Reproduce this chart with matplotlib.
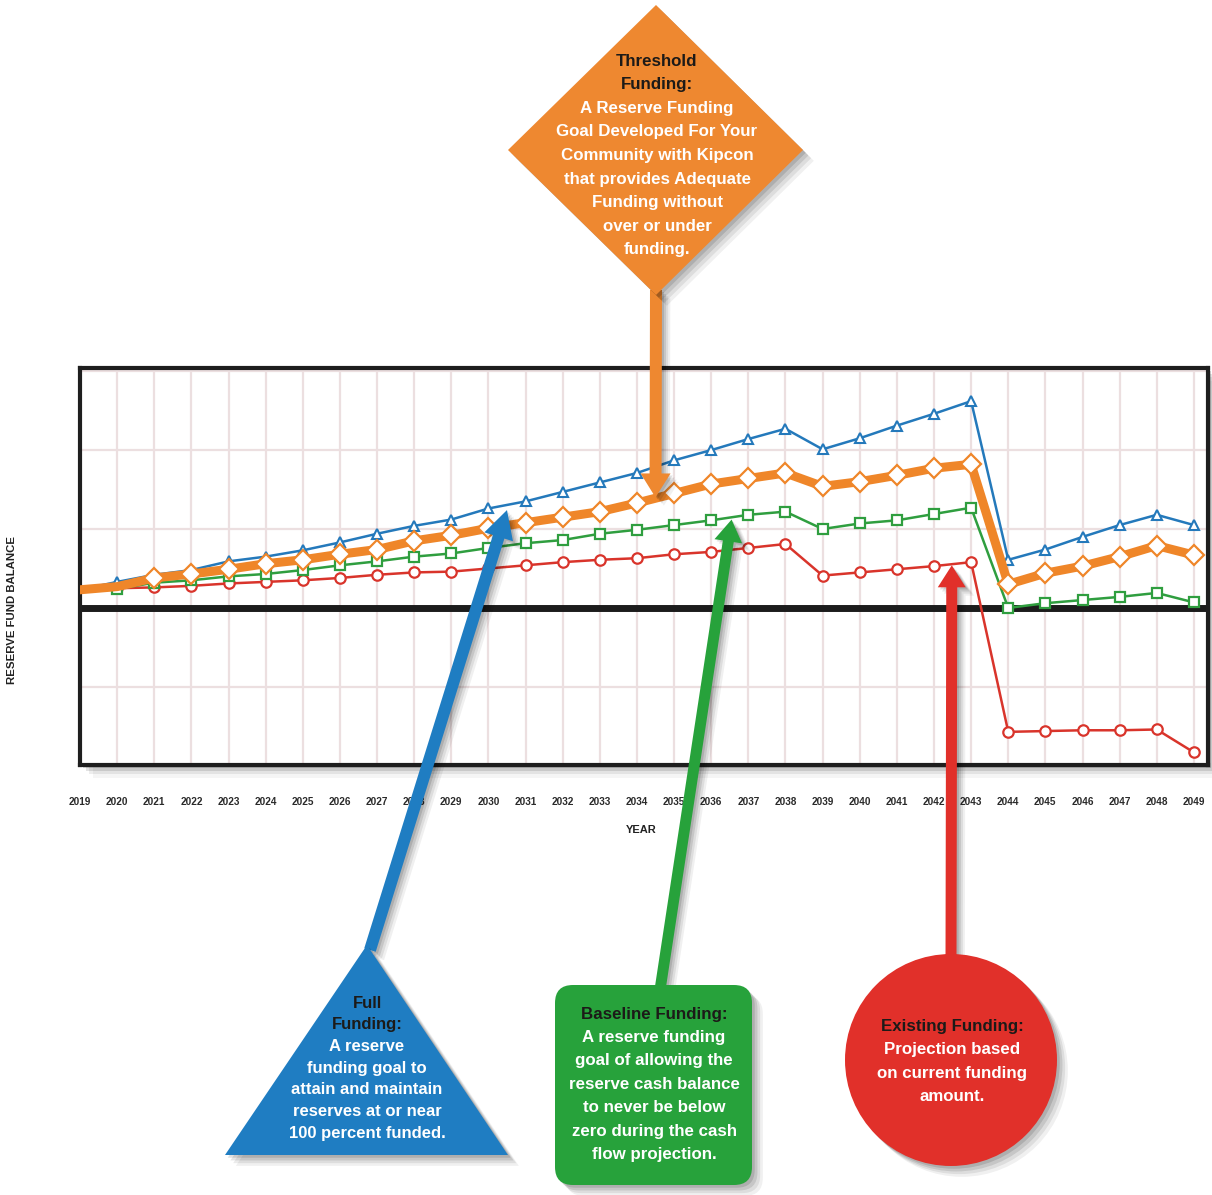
import matplotlib
matplotlib.use('Agg')
import matplotlib.pyplot as plt
import matplotlib.patheffects as pe
from matplotlib.patches import Polygon, Circle, FancyBboxPatch, Rectangle
import numpy as np

# ---------------- data ----------------
years = list(range(2019, 2050))
year_labels = [str(y) for y in years]
full_funding = [0.23, 0.33, 0.42, 0.48, 0.59, 0.65, 0.73, 0.83, 0.94, 1.04,
                1.12, 1.26, 1.35, 1.47, 1.59, 1.71, 1.87, 2.00, 2.14, 2.27,
                2.01, 2.15, 2.31, 2.46, 2.62, 0.61, 0.74, 0.90, 1.05, 1.18, 1.05]
threshold_funding = [0.23, 0.27, 0.38, 0.43, 0.49, 0.56, 0.61, 0.68, 0.74, 0.85,
                     0.92, 1.01, 1.08, 1.15, 1.22, 1.33, 1.45, 1.57, 1.64, 1.71,
                     1.54, 1.60, 1.68, 1.77, 1.82, 0.30, 0.44, 0.53, 0.65, 0.79, 0.67]
baseline_funding = [0.23, 0.24, 0.32, 0.35, 0.40, 0.43, 0.48, 0.54, 0.59, 0.65,
                    0.69, 0.76, 0.82, 0.86, 0.94, 0.99, 1.05, 1.11, 1.18, 1.22,
                    1.00, 1.07, 1.11, 1.19, 1.27, 0.00, 0.06, 0.10, 0.14, 0.19, 0.07]
existing_funding = [0.23, 0.25, 0.26, 0.28, 0.31, 0.33, 0.35, 0.38, 0.42, 0.45,
                    0.46, 0.50, 0.54, 0.58, 0.61, 0.63, 0.68, 0.71, 0.76, 0.81,
                    0.41, 0.45, 0.49, 0.53, 0.58, -1.57, -1.56, -1.55, -1.55, -1.54, -1.83]

threshold_title = ["Threshold", "Funding:"]
threshold_body = ["A Reserve Funding", "Goal Developed For Your", "Community with Kipcon",
                  "that provides Adequate", "Funding without", "over or under", "funding."]
full_title = ["Full", "Funding:"]
full_body = ["A reserve", "funding goal to", "attain and maintain",
             "reserves at or near", "100 percent funded."]
baseline_title = ["Baseline Funding:"]
baseline_body = ["A reserve funding", "goal of allowing the", "reserve cash balance",
                 "to never be below", "zero during the cash", "flow projection."]
existing_title = ["Existing Funding:"]
existing_body = ["Projection based", "on current funding", "amount."]

# ---------------- colours ----------------
C_BLUE = '#2479bb'
C_ORANGE = '#ef8629'
C_GREEN = '#2f9e3f'
C_RED = '#d9342b'
SH_BLUE = '#1f7dc2'
SH_ORANGE = '#ee8830'
SH_GREEN = '#27a23b'
SH_RED = '#e1302a'
DARK = '#1c1a18'
FONT = ['Liberation Sans', 'DejaVu Sans']
NARROW = ['Liberation Sans Narrow', 'Liberation Sans', 'DejaVu Sans']

W, H = 1212, 1195
fig = plt.figure(figsize=(W / 100, H / 100), dpi=100, facecolor='white')

bg = fig.add_axes([0, 0, 1, 1], zorder=0)
bg.set_xlim(0, W); bg.set_ylim(H, 0); bg.axis('off')

ax_l, ax_r, ax_t, ax_b = 80, 1208, 368, 765
ax = fig.add_axes([ax_l / W, 1 - ax_b / H, (ax_r - ax_l) / W, (ax_b - ax_t) / H], zorder=1)

fg = fig.add_axes([0, 0, 1, 1], zorder=2)
fg.set_xlim(0, W); fg.set_ylim(H, 0); fg.axis('off')

# chart drop shadow
for off, a in [(3, 0.16), (6, 0.11), (9, 0.07), (13, 0.04)]:
    bg.add_patch(Rectangle((ax_l + off, ax_t + off), ax_r - ax_l, ax_b - ax_t,
                           facecolor='k', edgecolor='none', alpha=a))

# ---------------- chart ----------------
ax.set_facecolor('white')
ax.set_xlim(2019, 2049.38)
ax.set_ylim(-1.99, 3.04)
ax.set_xticks(years)
ax.set_xticklabels(year_labels, fontsize=7.2, fontweight='bold', family=NARROW, color='#2a2a2a')
ax.set_yticks([-1, 0, 1, 2, 3])
ax.set_yticklabels([])
ax.tick_params(length=0, pad=23)
ax.grid(True, color='#ecdfe0', lw=1.6, zorder=0)
ax.set_axisbelow(True)
for s in ax.spines.values():
    s.set_linewidth(3)
    s.set_color('#1e1e1e')
ax.axhline(0, color='#1c1c1c', lw=5, zorder=2)

ax.plot(years, existing_funding, color=C_RED, lw=1.8, marker='o', ms=7.5, mfc='white',
        mec=C_RED, mew=1.6, markevery=slice(1, None), zorder=3)
ax.plot(years, baseline_funding, color=C_GREEN, lw=1.8, marker='s', ms=7, mfc='white',
        mec=C_GREEN, mew=1.6, markevery=slice(1, None), zorder=4)
ax.plot(years, full_funding, color=C_BLUE, lw=1.8, marker='^', ms=7.5, mfc='white',
        mec=C_BLUE, mew=1.5, markevery=slice(1, None), zorder=5)
ax.plot(years, threshold_funding, color=C_ORANGE, lw=6.5, marker='D', ms=10, mfc='white',
        mec=C_ORANGE, mew=1.6, markevery=slice(2, None), zorder=6)

fig.text(641 / W, 1 - 830 / H, 'YEAR', ha='center', va='center', fontsize=8,
         fontweight='bold', family=FONT, color='#222222')
fig.text(12 / W, 1 - 610 / H, 'RESERVE FUND BALANCE', ha='center', va='center', rotation=90,
         fontsize=8.2, fontweight='bold', family=FONT, color='#222222')


def to_px(x, y):
    dx, dy = ax.transData.transform((x, y))
    return dx, H - dy


def shadow_fx(scale=1.0):
    fx = []
    for off, a in [(1.5, 0.12), (3, 0.10), (4.5, 0.08), (6, 0.06)]:
        fx.append(pe.SimplePatchShadow(offset=(off * scale, -off * scale),
                                       shadow_rgbFace='k', alpha=a))
    fx.append(pe.Normal())
    return fx


def arrow(start, tip, color, sw=12, hw=30, hl=24):
    s = np.array(start, float); t = np.array(tip, float)
    d = t - s; d /= np.hypot(*d)
    n = np.array([-d[1], d[0]])
    neck = t - d * hl
    pts = [s + n * sw / 2, neck + n * sw / 2, neck + n * hw / 2, t,
           neck - n * hw / 2, neck - n * sw / 2, s - n * sw / 2]
    p = Polygon(pts, closed=True, facecolor=color, edgecolor='none', zorder=3)
    p.set_path_effects(shadow_fx())
    fg.add_patch(p)


def lines(x, y0, step, title, body, size):
    y = y0
    for t in title:
        fg.text(x, y, t, ha='center', va='center', fontsize=size, fontweight='bold',
                family=FONT, color=DARK, zorder=6)
        y += step
    for t in body:
        fg.text(x, y, t, ha='center', va='center', fontsize=size, fontweight='bold',
                family=FONT, color='white', zorder=6)
        y += step


# ---------------- callouts ----------------
# Threshold (orange diamond)
tip_o = to_px(2034.5, 1.40)
arrow((656, 290), tip_o, SH_ORANGE, sw=12, hw=30, hl=24)
dia = Polygon([(656, 5), (803, 150), (656, 295), (508, 150)], closed=True,
              facecolor=SH_ORANGE, edgecolor='none', zorder=4)
dia.set_path_effects(shadow_fx(1.3))
fg.add_patch(dia)
lines(657, 61, 23.6, threshold_title, threshold_body, 12.2)

# Full (blue triangle)
tip_b = to_px(2030.5, 1.24)
arrow((370, 950), tip_b, SH_BLUE, sw=12, hw=30, hl=28)
tri = Polygon([(367, 945), (508, 1155), (225, 1155)], closed=True,
              facecolor=SH_BLUE, edgecolor='none', zorder=4)
tri.set_path_effects(shadow_fx(1.3))
fg.add_patch(tri)
lines(367, 1003, 21.7, full_title, full_body, 12.0)

# Baseline (green rounded box)
tip_g = to_px(2036.55, 1.12)
arrow((660, 990), tip_g, SH_GREEN, sw=11, hw=28, hl=22)
box = FancyBboxPatch((555 + 18, 985 + 18), 197 - 36, 200 - 36,
                     boxstyle='round,pad=18', facecolor=SH_GREEN, edgecolor='none', zorder=4)
box.set_path_effects(shadow_fx(1.3))
fg.add_patch(box)
lines(654, 1014, 23.5, baseline_title, baseline_body, 12.2)

# Existing (red circle)
tip_r = to_px(2042.48, 0.54)
arrow((951, 960), tip_r, SH_RED, sw=11, hw=28, hl=22)
circ = Circle((951, 1060), 106, facecolor=SH_RED, edgecolor='none', zorder=4)
circ.set_path_effects(shadow_fx(1.3))
fg.add_patch(circ)
lines(952, 1026, 23.6, existing_title, existing_body, 12.2)

fig.savefig('out.png', dpi=100, facecolor='white')
